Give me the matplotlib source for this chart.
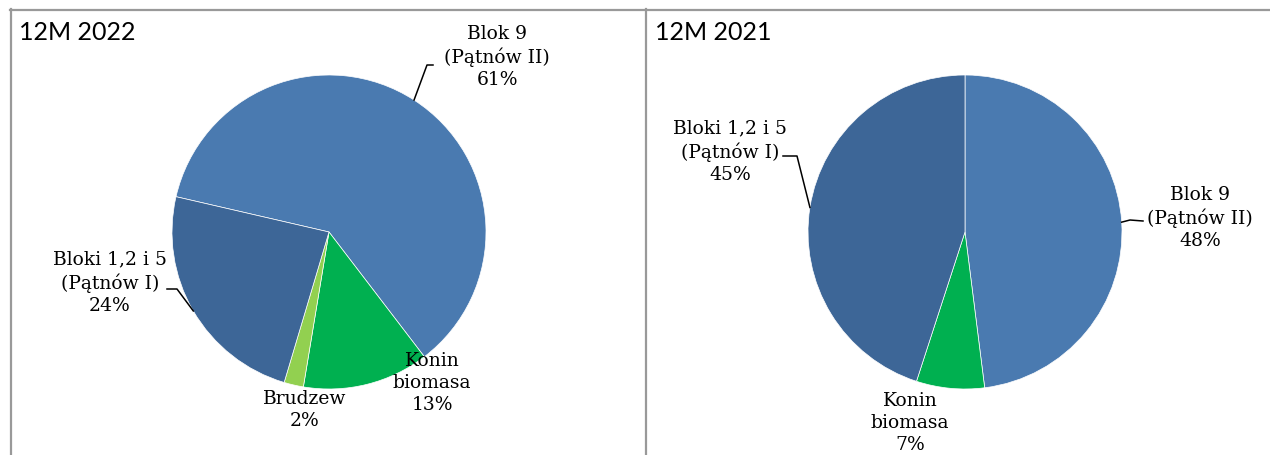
import numpy as np
import matplotlib
matplotlib.use('Agg')
import matplotlib.pyplot as plt

W, H = 1270, 456

# 12M 2022
left_title = '12M 2022'
left_labels = ['Blok 9\n(Pątnów II)', 'Konin\nbiomasa', 'Brudzew', 'Bloki 1,2 i 5\n(Pątnów I)']
left_values = [61, 13, 2, 24]
left_colors = ['#4A7AB0', '#00B050', '#92D050', '#3D6697']

# 12M 2021
right_title = '12M 2021'
right_labels = ['Blok 9\n(Pątnów II)', 'Konin\nbiomasa', 'Bloki 1,2 i 5\n(Pątnów I)']
right_values = [48, 7, 45]
right_colors = ['#4A7AB0', '#00B050', '#3D6697']

fig = plt.figure(figsize=(12.7, 4.56), dpi=100)

# frame + titles in pixel coords
bg = fig.add_axes([0, 0, 1, 1])
bg.set_xlim(0, W)
bg.set_ylim(H, 0)
bg.axis('off')
grey = '#999999'
bg.plot([10, W], [10.5, 10.5], color=grey, lw=1.6)
bg.plot([10.5, 10.5], [10, H], color=grey, lw=1.6)
bg.plot([645.5, 645.5], [10, H], color=grey, lw=1.6)
bg.text(19, 33, left_title, fontsize=18, family='Lato', va='center', ha='left')
bg.text(655, 33, right_title, fontsize=18, family='Lato', va='center', ha='left')


def draw_pie(cx, cy, r, values, labels, colors, start, label_pos, leaders):
    half = 240
    ax = fig.add_axes([(cx - half) / W, 1 - (cy + half) / H, 2 * half / W, 2 * half / H])
    wedges, _ = ax.pie(values, colors=colors, startangle=start, counterclock=False,
                       radius=1, wedgeprops=dict(edgecolor='white', linewidth=0.5))
    ax.set_xlim(-half / r, half / r)
    ax.set_ylim(-half / r, half / r)
    ax.set_aspect('equal')
    ax.axis('off')
    to_data = lambda px, py: ((px - cx) / r, (cy - py) / r)
    for i, w in enumerate(wedges):
        tx, ty = to_data(*label_pos[i])
        ax.text(tx, ty, f'{labels[i]}\n{values[i]}%', ha='center', va='center',
                fontsize=13.5, family='DejaVu Serif', linespacing=1.3, clip_on=False)
        if leaders[i] is not None:
            mid = np.deg2rad((w.theta1 + w.theta2) / 2)
            knee = to_data(*leaders[i][0])
            end = to_data(*leaders[i][1])
            ax.plot([np.cos(mid), knee[0], end[0]], [np.sin(mid), knee[1], end[1]],
                    color='black', lw=1.1, clip_on=False)


draw_pie(329, 233, 157, left_values, left_labels, left_colors, 167,
         [(497, 57), (432, 383), (305, 410), (110, 283)],
         [((427, 66), (433, 66)), None, None, ((177, 290), (167, 290))])

draw_pie(965, 233, 157, right_values, right_labels, right_colors, 90,
         [(1200, 218), (910, 423), (730, 152)],
         [((1130, 221), (1143, 222)), None, ((797, 157), (783, 157))])

fig.savefig('out.png', dpi=100)
